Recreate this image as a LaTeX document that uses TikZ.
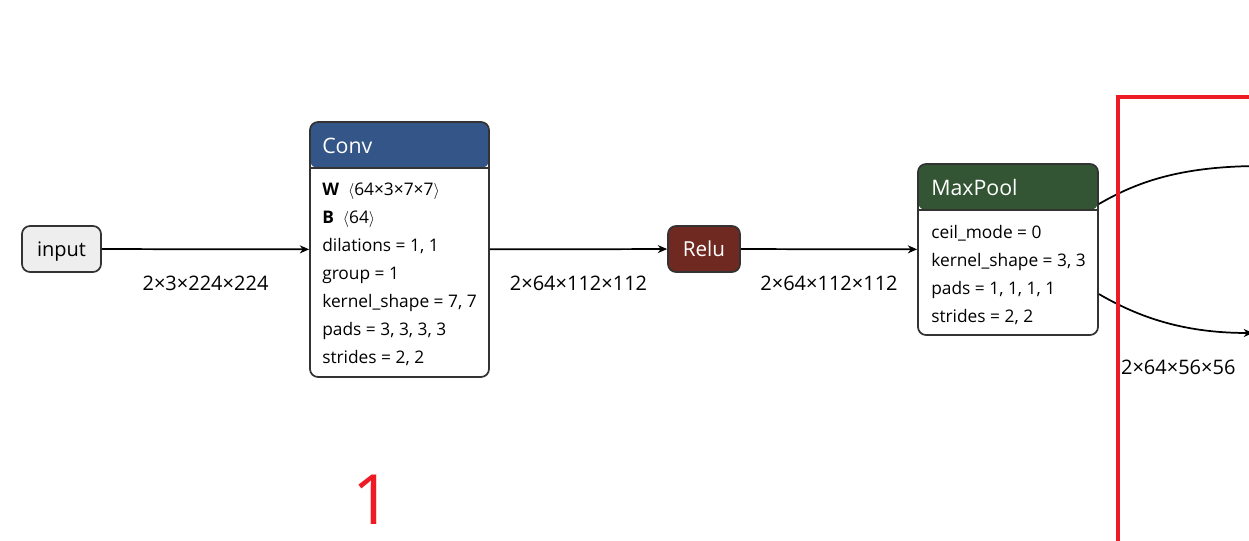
\documentclass[tikz,border=0pt]{standalone}
\usepackage{fontspec}
\setmainfont{Open Sans}
\usepackage{xcolor}
\usepackage{tikz}
\usetikzlibrary{arrows.meta,calc}

\definecolor{convblue}{RGB}{51,85,136}
\definecolor{relured}{RGB}{112,41,33}
\definecolor{poolgreen}{RGB}{51,85,51}
\definecolor{nodeline}{RGB}{51,51,51}
\definecolor{inputgray}{RGB}{238,238,238}
\definecolor{markred}{RGB}{237,28,36}

\begin{document}
\begin{tikzpicture}[x=0.75pt, y=-0.75pt,
  opbox/.style={draw=nodeline, line width=1.3pt, rounded corners=6pt, inner sep=0pt},
  header/.style={path picture={
    \fill[#1] (path picture bounding box.north west) rectangle ([yshift=-34.5pt]path picture bounding box.north east);
    \draw[nodeline, line width=1.3pt] ([yshift=-34.5pt]path picture bounding box.north west) -- ([yshift=-34.5pt]path picture bounding box.north east);}},
  hdrtext/.style={anchor=west, inner sep=0pt, text=white, font=\fontsize{16}{19}\selectfont},
  attrtext/.style={anchor=north west, inner sep=0pt, align=left, font=\fontsize{13}{21}\selectfont},
  shapetext/.style={font=\fontsize{15}{18}\selectfont},
  flow/.style={line width=1.3pt, -{Stealth[length=7pt,width=6pt]}}]
\useasboundingbox (0,0) rectangle (1249,541);
\clip (0,0) rectangle (1249,541);

% Operator nodes
\node[opbox, fill=inputgray, minimum width=59.25pt, minimum height=34.5pt, text depth=0pt, font=\fontsize{15}{18}\selectfont] (input) at (61.5,249) {input};
\node[opbox, header=convblue, minimum width=134.25pt, minimum height=191.25pt] (conv) at (399.5,249.5) {};
\node[opbox, fill=relured, text=white, minimum width=54pt, minimum height=34.5pt, font=\fontsize{15.5}{18}\selectfont] (relu) at (704,249) {Relu};
\node[opbox, header=poolgreen, minimum width=135pt, minimum height=128.25pt] (maxpool) at (1008,249.5) {};

% Titles and attributes
\node[hdrtext] (convtitle) at (322,146) {Conv};
\node[attrtext] (convattr) at (322,183) {\textbf{W} ~$\langle$64×3×7×7$\rangle$\\ \textbf{B} ~$\langle$64$\rangle$\\ dilations = 1, 1\\ group = 1\\ kernel\_shape = 7, 7\\ pads = 3, 3, 3, 3\\ strides = 2, 2};
\node[hdrtext] (pooltitle) at (931,188) {MaxPool};
\node[attrtext] (poolattr) at (931,225) {ceil\_mode = 0\\ kernel\_shape = 3, 3\\ pads = 1, 1, 1, 1\\ strides = 2, 2};

% Next nodes (off the picture)
\coordinate (nextA) at (1262,166);
\coordinate (nextB) at (1253,333);

% Arrows
\draw[flow] (input) -- (conv) node[midway, yshift=-25.5pt, shapetext] {2×3×224×224};
\draw[flow] (conv) -- (relu) node[midway, yshift=-25.5pt, shapetext] {2×64×112×112};
\draw[flow] (relu) -- (maxpool) node[midway, yshift=-25.5pt, shapetext] {2×64×112×112};
\draw[line width=1.3pt] ([yshift=34.1pt]maxpool.east) .. controls (1140,180) and (1185,166) .. (nextA);
\draw[flow] ([yshift=-33.4pt]maxpool.east) .. controls (1140,318) and (1185,333) .. (nextB)
  node[pos=0.5, xshift=9.3pt, yshift=-33.4pt, shapetext] {2×64×56×56};

% Marks
\node[text=markred, inner sep=0pt, text depth=0pt, font=\fontsize{52}{60}\selectfont] (stage) at (372,500) {1};
\draw[markred, line width=3pt] (1300,97) -- (1118,97) -- (1118,600);

\end{tikzpicture}
\end{document}
